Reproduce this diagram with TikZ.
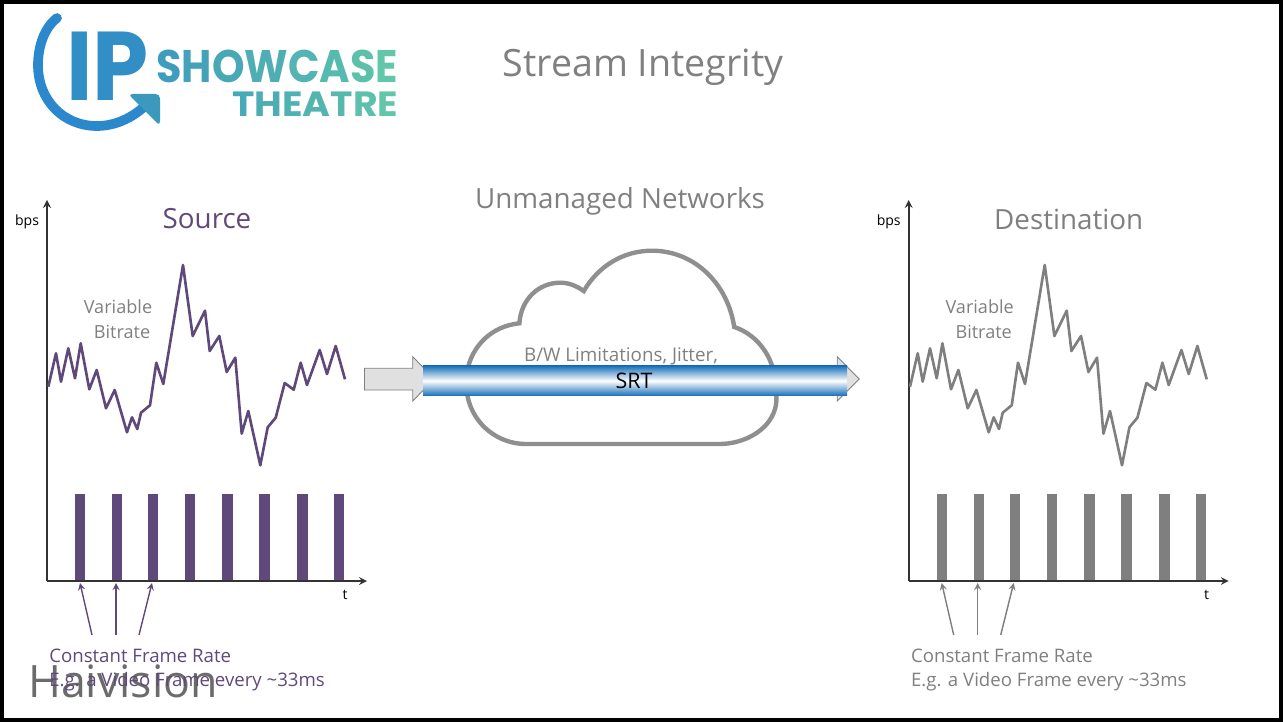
\documentclass[tikz,border=0pt]{standalone}
\usepackage{fontspec}
\usepackage{graphicx}
\setmainfont{Open Sans}
\newfontfamily\logofont{Poppins}
\usetikzlibrary{arrows}
\definecolor{srcpurple}{HTML}{5F497A}
\definecolor{dstgray}{HTML}{7F7F7F}
\definecolor{textgray}{HTML}{808080}
\definecolor{cloudgray}{HTML}{8F8F8F}
\definecolor{bandblue}{HTML}{1A72BA}
\definecolor{pipefill}{HTML}{E0E0E0}
\definecolor{logoA}{HTML}{2B88CC}
\definecolor{logoB}{HTML}{3C99BE}
\definecolor{logoC}{HTML}{3E9CBC}
\definecolor{logoD}{HTML}{62C6A8}
\newcommand{\logoletters}[1]{\foreach \l/\m in {#1}{\textcolor{logoD!\m!logoC}{\l}}}
\tikzset{
    label/.style={inner sep=0pt,font=\fontsize{10.3}{12.5}\selectfont},
    note/.style={inner sep=0pt,font=\fontsize{10.6}{12.5}\selectfont},
    heading/.style={inner sep=0pt,font=\fontsize{15.8}{19}\selectfont},
    axislabel/.style={inner sep=0pt,font=\fontsize{8}{10}\selectfont,black},
    logotext/.style={inner sep=0pt,font=\logofont\bfseries},
    pipe/.style={draw=gray,fill=pipefill,line width=.5pt},
}
\begin{document}
\begin{tikzpicture}[x=.02cm,y=-.02cm]
    \useasboundingbox (0,0) rectangle (1283,722);
    \draw[line width=1.9pt] (2,2) rectangle (1281,720);
    % logo
    \draw[logoA,line width=5.5pt,line cap=round] (57,18) .. controls (44,28) and (38,47) .. (38,65) .. controls (38,100) and (63,126) .. (97,126) .. controls (115,126) and (132,118) .. (145,106);
    \fill[logoB,rounded corners=2.5pt] (128,94) -- (160,94) -- (160,126) -- cycle;
    \node[logotext,anchor=north west,logoA!60!logoB] (logoip) at (66,32) {\resizebox{47pt}{39pt}{IP}};
    \node[logotext,anchor=north west] (logoshow) at (156,50) {\resizebox{137.5pt}{18.5pt}{\logoletters{S/0,H/14,O/28,W/43,C/57,A/71,S/86,E/100}}};
    \node[logotext,anchor=north west] (logotheatre) at (232,92) {\resizebox{94.5pt}{14pt}{\logoletters{T/30,H/40,E/50,A/60,T/70,R/85,E/100}}};
    % title
    \node[textgray,inner sep=0pt,font=\fontsize{21.4}{25}\selectfont] (title) at (643,67) {Stream Integrity};
    \node[textgray,heading] (unmanaged) at (620,201) {Unmanaged Networks};
    % the two panels
    \node[black!58,inner sep=0pt,font=\fontsize{25.4}{32}\selectfont] (haivision) at (123,681) {Haivision};
    \foreach \name/\shift/\col/\head in {src/0/srcpurple/Source,dst/861.7/dstgray/Destination}{
        \begin{scope}[xshift=\shift*.02cm]
            \coordinate (\name O) at (47,581);
            \coordinate (\name Y) at (47,200);
            \coordinate (\name X) at (367,581);
            \foreach \b/\l/\r in {1/75/85,2/112/122,3/148/158,4/185/195,5/222/233,6/259/270,7/297/308,8/334/344}{
                \fill[\col] (\l,494) rectangle (\r,581);
            }
            \draw[black!80,line width=1pt,>=stealth,->] (\name O) -- (\name Y);
            \draw[black!80,line width=1pt,>=stealth,->] (\name O) -- (\name X);
            \draw[\col,line width=1.5pt,line join=round] (48.3,386.7) -- (56,353.3) -- (61,381.7) -- (68.3,348.3) -- (75,378.3) -- (80.7,343.3) -- (89.3,389.3) -- (96.7,370) -- (106,408.3) -- (114.7,390) -- (127,432.3) -- (132,417.3) -- (137.3,429) -- (141,412.7) -- (150,405.3) -- (156.3,362.7) -- (163.3,384) -- (183,265) -- (192.7,336) -- (205,310.7) -- (209.7,351) -- (219.3,336) -- (226.7,372) -- (235.3,357.7) -- (241.7,433.7) -- (248.3,411) -- (260.3,465.3) -- (267.7,427.3) -- (275.7,417.7) -- (284.7,383) -- (293.7,389.7) -- (300.7,362.7) -- (307,385) -- (319.7,350) -- (327,374) -- (335.7,346) -- (345,379.3);
            \node[axislabel] (\name bps) at (27,222) {bps};
            \node[axislabel] (\name t) at (345,595) {t};
            \node[\col,heading] (\name head) at (207,219) {\head};
            \node[textgray,label] (\name var) at (118,307) {Variable};
            \node[textgray,label] (\name bit) at (122,332) {Bitrate};
            \node[\col,note,anchor=west] (\name rate) at (49,656) {Constant Frame Rate};
            \node[\col,note,anchor=west] (\name frame) at (49,682) {E.g. a Video Frame every \textasciitilde33ms};
            \foreach \c/\f/\t in {a/92/80,b/116/116,c/139/152}{
                \coordinate (\name from\c) at (\f,635);
                \coordinate (\name to\c) at (\t,583);
                \draw[\col,line width=.8pt,>=stealth,->] (\name from\c) -- (\name to\c);
            }
        \end{scope}
    }
    % cloud
    \draw[cloudgray,line width=2.5pt] (583.8,291) .. controls (575.7,285.5) and (568.5,282.7) .. (560.4,282.7) .. controls (538,282.7) and (520.8,300) .. (519.4,323.3) .. controls (492.3,326) and (472,345) .. (466.9,372) .. controls (460.8,415) and (492.3,444) .. (525.8,444) -- (719,444) .. controls (751.5,444) and (781,422) .. (775.9,392) .. controls (776.9,360) and (758.6,335) .. (734.2,327) .. controls (728,285) and (695.6,250.7) .. (651.9,250.7) .. controls (624.4,250.7) and (599,265) .. (583.8,291) -- cycle;
    \node[textgray,inner sep=0pt,font=\fontsize{10.7}{13}\selectfont] (limits) at (621,356) {B/W Limitations, Jitter,};
    % stream arrows and band
    \draw[pipe] (364.5,368.3) -- (412.7,368.3) -- (412.7,356.7) -- (434.4,379) -- (412.7,401) -- (412.7,390) -- (364.5,390) -- cycle;
    \draw[pipe] (837.2,368.3) -- (837.2,356.7) -- (859.2,379) -- (837.2,401) -- (837.2,390) -- cycle;
    \shade[top color=bandblue,bottom color=bandblue,middle color=white] (423,366) rectangle (847,395.5);
    \node[black,inner sep=0pt,font=\fontsize{12.2}{14}\selectfont] (srt) at (634,381) {SRT};
\end{tikzpicture}
\end{document}
